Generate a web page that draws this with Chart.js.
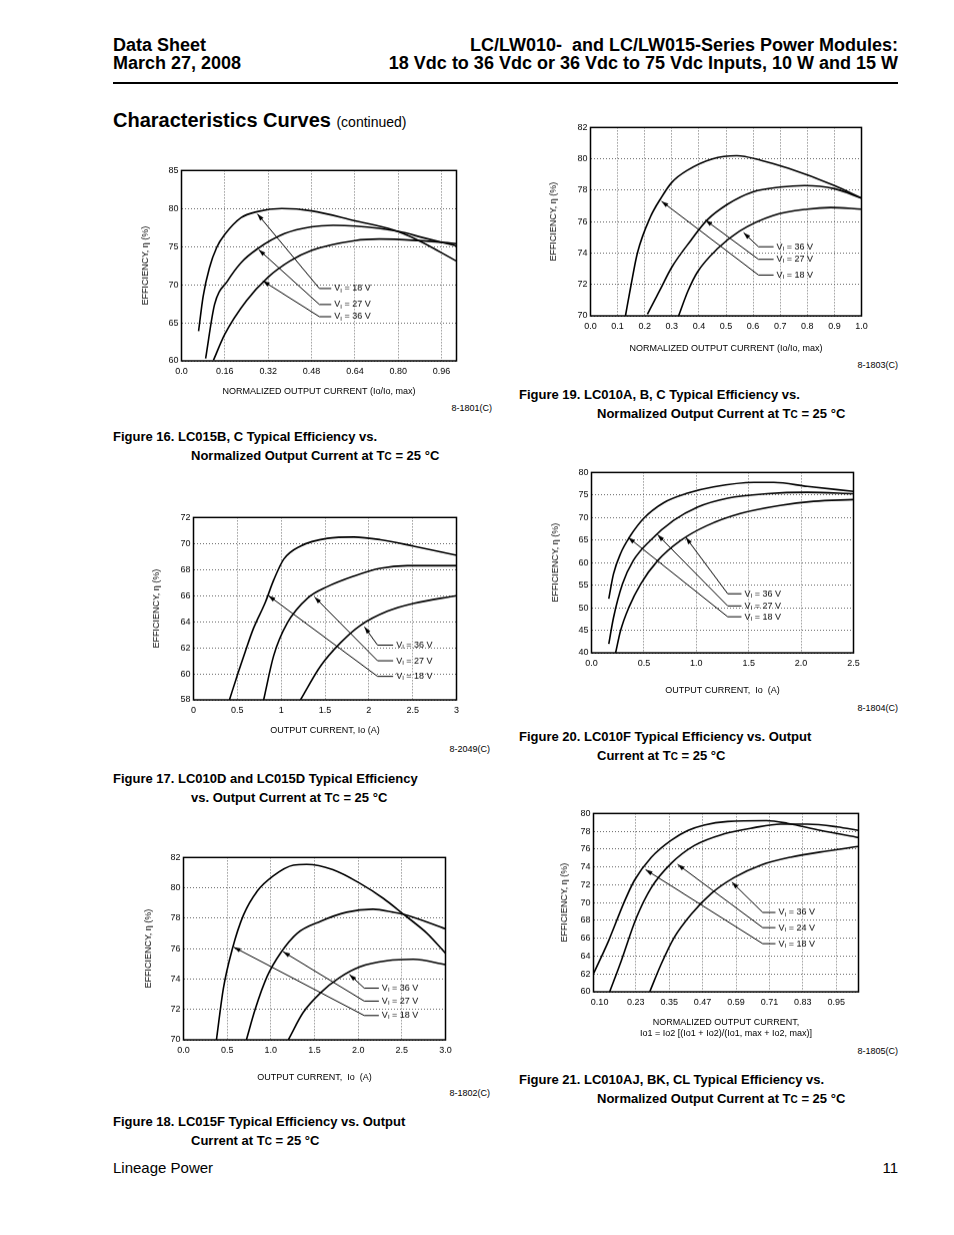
<!DOCTYPE html>
<html>
<head>
<meta charset="utf-8">
<script src="https://cdn.jsdelivr.net/npm/chart.js@4/dist/chart.umd.min.js"></script>
<style>
  body { margin: 0; background: #fff; }
  #page { position: relative; width: 954px; height: 1235px; font-family: "Liberation Sans", Arial, sans-serif; color: #000; overflow: hidden; }
  .t { position: absolute; white-space: nowrap; }
  .hd { font-weight: bold; font-size: 18px; line-height: 18px; }
  .cap { font-weight: bold; font-size: 13px; line-height: 19px; }
  .cap .in { padding-left: 78px; }
  .sm { font-size: 10px; }
  .code { font-size: 9px; line-height: 10px; }
  .box { position: absolute; }
</style>
</head>
<body>
<div id="page">
  <div class="t hd" style="left:113px;top:36px">Data Sheet</div>
  <div class="t hd" style="left:113px;top:54px">March 27, 2008</div>
  <div class="t hd" style="right:56px;top:36px;text-align:right">LC/LW010-&nbsp; and LC/LW015-Series Power Modules:</div>
  <div class="t hd" style="right:56px;top:54px;text-align:right">18 Vdc to 36 Vdc or 36 Vdc to 75 Vdc Inputs, 10 W and 15 W</div>
  <div style="position:absolute;left:113px;top:82px;width:785px;height:2px;background:#000"></div>
  <div class="t" style="left:113px;top:109px;font-size:20px;line-height:22px;font-weight:bold">Characteristics Curves <span style="font-size:14px;font-weight:normal">(continued)</span></div>

  <div class="box" id="fig16"></div>
  <div class="box" id="fig17"></div>
  <div class="box" id="fig18"></div>
  <div class="box" id="fig19"></div>
  <div class="box" id="fig20"></div>
  <div class="box" id="fig21"></div>

  <div class="t code" style="right:462px;top:403px">8-1801(C)</div>
  <div class="t code" style="right:464px;top:744px">8-2049(C)</div>
  <div class="t code" style="right:464px;top:1088px">8-1802(C)</div>
  <div class="t code" style="right:56px;top:360px">8-1803(C)</div>
  <div class="t code" style="right:56px;top:703px">8-1804(C)</div>
  <div class="t code" style="right:56px;top:1046px">8-1805(C)</div>

  <div class="t cap" style="left:113px;top:427px">Figure 16. LC015B, C Typical Efficiency vs.<div class="in">Normalized Output Current at T<span class="sm">C</span> = 25 °C</div></div>
  <div class="t cap" style="left:113px;top:769px">Figure 17. LC010D and LC015D Typical Efficiency<div class="in">vs. Output Current at T<span class="sm">C</span> = 25 °C</div></div>
  <div class="t cap" style="left:113px;top:1112px">Figure 18. LC015F Typical Efficiency vs. Output<div class="in">Current at T<span class="sm">C</span> = 25 °C</div></div>
  <div class="t cap" style="left:519px;top:385px">Figure 19. LC010A, B, C Typical Efficiency vs.<div class="in">Normalized Output Current at T<span class="sm">C</span> = 25 °C</div></div>
  <div class="t cap" style="left:519px;top:727px">Figure 20. LC010F Typical Efficiency vs. Output<div class="in">Current at T<span class="sm">C</span> = 25 °C</div></div>
  <div class="t cap" style="left:519px;top:1070px">Figure 21. LC010AJ, BK, CL Typical Efficiency vs.<div class="in">Normalized Output Current at T<span class="sm">C</span> = 25 °C</div></div>

  <div class="t" style="left:113px;top:1160px;font-size:15px;line-height:16px">Lineage Power</div>
  <div class="t" style="right:56px;top:1160px;font-size:15px;line-height:16px">11</div>
</div>

<script>
// ---- data (x, efficiency %) ----
const fig16_xticks = [0, 0.16, 0.32, 0.48, 0.64, 0.80, 0.96];
const fig16_xlabels = ['0.0', '0.16', '0.32', '0.48', '0.64', '0.80', '0.96'];
const fig16_yticks = [60, 65, 70, 75, 80, 85];
const fig16_vi18 = [[0.063,63.9],[0.08,68.5],[0.103,72.2],[0.13,74.9],[0.16,76.6],[0.22,78.8],[0.28,79.6],[0.37,80.0],[0.48,79.7],[0.64,78.4],[0.78,77.2],[0.87,75.9],[1.015,73.1]];
const fig16_vi27 = [[0.089,60.3],[0.122,67.4],[0.17,70.5],[0.22,72.9],[0.28,74.7],[0.38,76.7],[0.48,77.6],[0.56,77.8],[0.64,77.7],[0.80,77.0],[0.90,76.1],[1.015,75.1]];
const fig16_vi36 = [[0.118,60.1],[0.16,63.5],[0.24,67.9],[0.32,71.0],[0.40,73.1],[0.48,74.5],[0.64,75.8],[0.73,76.0],[0.87,75.8],[1.015,75.4]];

const fig17_xticks = [0, 0.5, 1, 1.5, 2, 2.5, 3];
const fig17_xlabels = ['0', '0.5', '1', '1.5', '2', '2.5', '3'];
const fig17_yticks = [58, 60, 62, 64, 66, 68, 70, 72];
const fig17_vi18 = [[0.41,58],[0.51,60.1],[0.60,61.9],[0.685,63.5],[0.82,65.5],[0.915,67.2],[1.03,68.8],[1.22,69.8],[1.53,70.4],[1.83,70.5],[2.13,70.3],[2.51,69.8],[3.0,69.1]];
const fig17_vi27 = [[0.80,58],[0.915,61.4],[1.07,63.9],[1.30,65.8],[1.53,66.7],[1.83,67.5],[2.13,68.1],[2.44,68.3],[3.0,68.3]];
const fig17_vi36 = [[1.22,58],[1.45,60.6],[1.68,62.4],[1.90,63.7],[2.21,64.8],[2.51,65.4],[3.0,66.0]];

const fig18_xticks = [0, 0.5, 1, 1.5, 2, 2.5, 3];
const fig18_xlabels = ['0.0', '0.5', '1.0', '1.5', '2.0', '2.5', '3.0'];
const fig18_yticks = [70, 72, 74, 76, 78, 80, 82];
const fig18_vi18 = [[0.377,70],[0.457,73.4],[0.56,76.0],[0.686,78.2],[0.846,79.8],[1.03,80.8],[1.26,81.5],[1.41,81.55],[1.71,81.2],[2.02,80.3],[2.29,79.3],[2.51,78.3],[2.79,77.0],[3.0,75.7]];
const fig18_vi27 = [[0.72,70],[0.82,72.0],[0.96,74.2],[1.11,75.7],[1.30,77.0],[1.57,77.8],[1.87,78.4],[2.17,78.6],[2.40,78.4],[2.56,78.2],[3.0,77.3]];
const fig18_vi36 = [[1.2,70],[1.37,71.8],[1.57,73.1],[1.79,74.1],[2.02,74.8],[2.33,75.2],[2.63,75.3],[3.0,74.95]];

const fig19_xticks = [0, 0.1, 0.2, 0.3, 0.4, 0.5, 0.6, 0.7, 0.8, 0.9, 1.0];
const fig19_xlabels = ['0.0', '0.1', '0.2', '0.3', '0.4', '0.5', '0.6', '0.7', '0.8', '0.9', '1.0'];
const fig19_yticks = [70, 72, 74, 76, 78, 80, 82];
const fig19_vi18 = [[0.129,70.0],[0.15,72.0],[0.173,74.0],[0.221,76.3],[0.26,77.5],[0.30,78.5],[0.36,79.3],[0.45,80.0],[0.54,80.2],[0.63,79.9],[0.73,79.4],[0.90,78.3],[1.0,77.5]];
const fig19_vi27 = [[0.21,70.1],[0.258,71.7],[0.30,73.1],[0.37,74.8],[0.43,76.1],[0.505,77.1],[0.60,77.9],[0.70,78.2],[0.79,78.3],[0.90,78.1],[1.0,77.5]];
const fig19_vi36 = [[0.325,70.0],[0.36,71.6],[0.395,72.8],[0.47,74.3],[0.55,75.4],[0.675,76.4],[0.80,76.8],[0.886,76.9],[1.0,76.8]];

const fig20_xticks = [0, 0.5, 1.0, 1.5, 2.0, 2.5];
const fig20_xlabels = ['0.0', '0.5', '1.0', '1.5', '2.0', '2.5'];
const fig20_yticks = [40, 45, 50, 55, 60, 65, 70, 75, 80];
const fig20_vi18 = [[0.165,52.0],[0.21,57.5],[0.277,62.0],[0.372,66.0],[0.497,69.8],[0.69,73.3],[0.916,75.4],[1.165,76.8],[1.55,77.8],[1.74,77.8],[2.06,76.9],[2.5,75.8]];
const fig20_vi27 = [[0.165,42.0],[0.21,47.8],[0.296,55.3],[0.40,60.5],[0.56,64.9],[0.78,69.3],[1.01,72.3],[1.30,74.3],[1.68,75.3],[2.06,75.6],[2.5,75.3]];
const fig20_vi36 = [[0.23,40],[0.277,44.9],[0.355,50.0],[0.47,55.3],[0.63,60.4],[0.85,64.9],[1.10,68.2],[1.42,70.9],[1.80,72.7],[2.12,73.6],[2.5,74.0]];

const fig21_xticks = [0.10, 0.23, 0.35, 0.47, 0.59, 0.71, 0.83, 0.95];
const fig21_xlabels = ['0.10', '0.23', '0.35', '0.47', '0.59', '0.71', '0.83', '0.95'];
const fig21_yticks = [60, 62, 64, 66, 68, 70, 72, 74, 76, 78, 80];
const fig21_vi18 = [[0.079,62.1],[0.132,65.7],[0.186,69.9],[0.225,72.5],[0.286,75.1],[0.357,77.0],[0.418,78.1],[0.475,78.7],[0.56,79.1],[0.70,79.2],[0.775,78.9],[0.893,78.1],[1.03,77.3]];
const fig21_vi24 = [[0.136,60],[0.178,63.5],[0.232,68.3],[0.286,71.7],[0.357,74.4],[0.44,76.4],[0.546,77.7],[0.654,78.4],[0.75,78.8],[0.846,78.8],[0.953,78.5],[1.03,78.1]];
const fig21_vi36 = [[0.28,60],[0.321,63.1],[0.368,66.1],[0.429,68.7],[0.50,71.0],[0.582,72.8],[0.678,74.2],[0.786,75.1],[0.918,75.8],[1.03,76.3]];

const FONT = '"Liberation Sans", Arial, sans-serif';
const YTITLE = 'EFFICIENCY, \u03b7 (%)';

// black frame round the plot area
const framePlugin = {
  id: 'frame',
  afterDatasetsDraw(chart) {
    const a = chart.chartArea, ctx = chart.ctx;
    ctx.save();
    ctx.strokeStyle = '#000';
    ctx.lineWidth = 1.5;
    ctx.strokeRect(a.left, a.top, a.right - a.left, a.bottom - a.top);
    ctx.restore();
  }
};

// "VI = xx V" labels with leader lines and arrows, given in data units
const notesPlugin = {
  id: 'notes',
  afterDatasetsDraw(chart, args, opts) {
    const ctx = chart.ctx, sx = chart.scales.x, sy = chart.scales.y;
    ctx.save();
    ctx.strokeStyle = '#000';
    ctx.fillStyle = '#000';
    ctx.lineWidth = 1;
    (opts.items || []).forEach(n => {
      const tx = sx.getPixelForValue(n.tip[0]), ty = sy.getPixelForValue(n.tip[1]);
      const ex = sx.getPixelForValue(n.elbow);
      const lx = sx.getPixelForValue(n.at[0]), ly = sy.getPixelForValue(n.at[1]);
      ctx.beginPath();
      ctx.moveTo(lx - 2, ly);
      ctx.lineTo(ex, ly);
      ctx.lineTo(tx, ty);
      ctx.stroke();
      const a = Math.atan2(ty - ly, tx - ex);
      ctx.beginPath();
      ctx.moveTo(tx, ty);
      ctx.lineTo(tx - 7 * Math.cos(a) + 2.2 * Math.sin(a), ty - 7 * Math.sin(a) - 2.2 * Math.cos(a));
      ctx.lineTo(tx - 7 * Math.cos(a) - 2.2 * Math.sin(a), ty - 7 * Math.sin(a) + 2.2 * Math.cos(a));
      ctx.closePath();
      ctx.fill();
      ctx.textBaseline = 'middle';
      ctx.textAlign = 'left';
      let x = lx + 1;
      ctx.font = '9px ' + FONT;
      ctx.fillText('V', x, ly);
      x += ctx.measureText('V').width;
      ctx.font = '6px ' + FONT;
      ctx.fillText('I', x, ly + 2);
      x += ctx.measureText('I').width;
      ctx.font = '9px ' + FONT;
      ctx.fillText(' = ' + n.text, x, ly);
    });
    ctx.restore();
  }
};

function curve(points) {
  return {
    data: points.map(p => ({ x: p[0], y: p[1] })),
    borderColor: '#000',
    borderWidth: 1.6,
    pointRadius: 0,
    fill: false,
    cubicInterpolationMode: 'monotone'
  };
}

function buildChart(id, spec) {
  const box = document.getElementById(id);
  const lh = 11;
  const [pl, pt, pr, pb] = spec.plot;
  const lines = Array.isArray(spec.xTitle) ? spec.xTitle.length : 1;
  const left = spec.yTitleX - lh / 2;
  const top = pt - 8;
  const right = pr + 14;
  const bottom = spec.xTitleY + lh / 2 + lh * (lines - 1);
  box.style.left = left + 'px';
  box.style.top = top + 'px';
  box.style.width = (right - left) + 'px';
  box.style.height = (bottom - top) + 'px';
  const canvas = document.createElement('canvas');
  box.appendChild(canvas);
  const hidden = spec.hideGrid || [];
  const tickFont = { family: FONT, size: 9 };
  const titleFont = { family: FONT, size: 9, lineHeight: lh / 9 };

  new Chart(canvas, {
    type: 'line',
    data: { datasets: spec.series.map(curve) },
    plugins: [framePlugin, notesPlugin],
    options: {
      responsive: true,
      maintainAspectRatio: false,
      animation: false,
      layout: { padding: { left: 0, top: pt - top, right: right - pr, bottom: 0 } },
      plugins: {
        legend: { display: false },
        tooltip: { enabled: false },
        notes: { items: spec.notes }
      },
      scales: {
        x: {
          type: 'linear',
          min: spec.xMin,
          max: spec.xMax,
          afterBuildTicks: ax => { ax.ticks = spec.xTicks.map(v => ({ value: v })); },
          afterFit: ax => { ax.height = bottom - pb; },
          ticks: {
            callback: (v, i) => spec.xLabels[i],
            color: '#000', font: tickFont, padding: 5, autoSkip: false, maxRotation: 0
          },
          grid: {
            drawTicks: false,
            lineWidth: 0.9,
            color: c => (c.tick && hidden.includes(c.tick.value)) ? 'rgba(0,0,0,0)' : '#555'
          },
          border: { display: false, dash: [1, 2] },
          title: { display: true, text: spec.xTitle, color: '#000', font: titleFont, padding: 0 }
        },
        y: {
          min: spec.yMin,
          max: spec.yMax,
          afterBuildTicks: ax => { ax.ticks = spec.yTicks.map(v => ({ value: v })); },
          afterFit: ax => { ax.width = pl - left; },
          ticks: { color: '#000', font: tickFont, padding: 3, autoSkip: false },
          grid: { drawTicks: false, lineWidth: 0.9, color: '#555' },
          border: { display: false, dash: [1, 2] },
          title: { display: true, text: YTITLE, color: '#000', font: titleFont, padding: 0 }
        }
      }
    }
  });
}

buildChart('fig16', {
  plot: [181, 170, 456, 360], yTitleX: 145, xTitleY: 391,
  xMin: 0, xMax: 1.015, yMin: 60, yMax: 85,
  xTicks: fig16_xticks, xLabels: fig16_xlabels, yTicks: fig16_yticks,
  xTitle: 'NORMALIZED OUTPUT CURRENT (Io/Io, max)',
  series: [fig16_vi18, fig16_vi27, fig16_vi36],
  notes: [
    { text: '18 V', at: [0.56, 69.5], elbow: 0.509, tip: [0.28, 79.3] },
    { text: '27 V', at: [0.56, 67.4], elbow: 0.509, tip: [0.285, 74.6] },
    { text: '36 V', at: [0.56, 65.8], elbow: 0.509, tip: [0.30, 70.5] }
  ]
});

buildChart('fig17', {
  plot: [193, 517, 456, 699], yTitleX: 156, xTitleY: 730,
  xMin: 0, xMax: 3, yMin: 58, yMax: 72,
  xTicks: fig17_xticks, xLabels: fig17_xlabels, yTicks: fig17_yticks,
  xTitle: 'OUTPUT CURRENT, Io (A)',
  series: [fig17_vi18, fig17_vi27, fig17_vi36],
  notes: [
    { text: '36 V', at: [2.30, 62.2], elbow: 2.10, tip: [1.95, 63.6] },
    { text: '27 V', at: [2.30, 61.0], elbow: 2.10, tip: [1.38, 65.9] },
    { text: '18 V', at: [2.30, 59.8], elbow: 2.10, tip: [0.855, 66.0] }
  ]
});

buildChart('fig18', {
  plot: [183, 857, 445, 1039], yTitleX: 148, xTitleY: 1077,
  xMin: 0, xMax: 3, yMin: 70, yMax: 82,
  xTicks: fig18_xticks, xLabels: fig18_xlabels, yTicks: fig18_yticks,
  xTitle: 'OUTPUT CURRENT,  Io  (A)',
  series: [fig18_vi18, fig18_vi27, fig18_vi36],
  notes: [
    { text: '36 V', at: [2.26, 73.4], elbow: 2.07, tip: [1.90, 74.3] },
    { text: '27 V', at: [2.26, 72.55], elbow: 2.07, tip: [1.14, 75.8] },
    { text: '18 V', at: [2.26, 71.6], elbow: 2.07, tip: [0.575, 76.1] }
  ]
});

buildChart('fig19', {
  plot: [590, 127, 861, 315], yTitleX: 553, xTitleY: 348,
  xMin: 0, xMax: 1.0, yMin: 70, yMax: 82,
  xTicks: fig19_xticks, xLabels: fig19_xlabels, yTicks: fig19_yticks,
  xTitle: 'NORMALIZED OUTPUT CURRENT (Io/Io, max)',
  series: [fig19_vi18, fig19_vi27, fig19_vi36],
  notes: [
    { text: '36 V', at: [0.683, 74.4], elbow: 0.62, tip: [0.565, 75.3] },
    { text: '27 V', at: [0.683, 73.6], elbow: 0.62, tip: [0.424, 76.1] },
    { text: '18 V', at: [0.683, 72.6], elbow: 0.62, tip: [0.262, 77.3] }
  ]
});

buildChart('fig20', {
  plot: [591, 472, 853, 652], yTitleX: 555, xTitleY: 690,
  xMin: 0, xMax: 2.5, yMin: 40, yMax: 80,
  xTicks: fig20_xticks, xLabels: fig20_xlabels, yTicks: fig20_yticks,
  xTitle: 'OUTPUT CURRENT,  Io  (A)',
  series: [fig20_vi18, fig20_vi27, fig20_vi36],
  notes: [
    { text: '36 V', at: [1.45, 53.1], elbow: 1.30, tip: [0.90, 65.6] },
    { text: '27 V', at: [1.45, 50.4], elbow: 1.30, tip: [0.63, 66.2] },
    { text: '18 V', at: [1.45, 48.0], elbow: 1.30, tip: [0.35, 65.6] }
  ]
});

buildChart('fig21', {
  plot: [593, 813, 858, 991], yTitleX: 564, xTitleY: 1022,
  xMin: 0.078, xMax: 1.03, yMin: 60, yMax: 80,
  xTicks: fig21_xticks, xLabels: fig21_xlabels, yTicks: fig21_yticks, hideGrid: [0.10],
  xTitle: ['NORMALIZED OUTPUT CURRENT,', 'Io1 = Io2 [(Io1 + Io2)/(Io1, max + Io2, max)]'],
  series: [fig21_vi18, fig21_vi24, fig21_vi36],
  notes: [
    { text: '36 V', at: [0.739, 68.9], elbow: 0.686, tip: [0.575, 72.3] },
    { text: '24 V', at: [0.739, 67.2], elbow: 0.686, tip: [0.38, 74.3] },
    { text: '18 V', at: [0.739, 65.4], elbow: 0.686, tip: [0.265, 73.7] }
  ]
});
</script>
</body>
</html>
